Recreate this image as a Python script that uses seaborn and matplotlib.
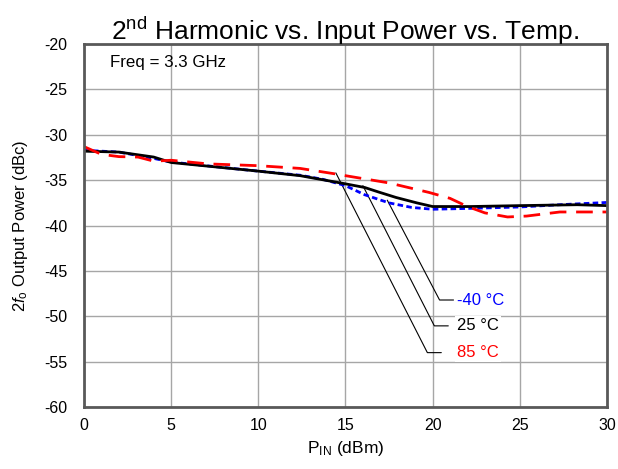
import matplotlib
matplotlib.use("Agg")
import matplotlib.pyplot as plt
import seaborn as sns
import pandas as pd

# input power (dBm) and 2nd harmonic level (dBc) per temperature
pin_m40 = [0, 2, 4, 5, 10, 12.4, 13.7, 15, 16.1, 17.5, 18.8, 20, 22.2, 25, 27.3, 30]
h2_m40 = [-31.7, -31.9, -32.6, -33.0, -34.0, -34.45, -34.9, -35.6, -36.6, -37.5, -38.0, -38.2, -38.1, -37.95, -37.7, -37.45]

pin_25 = [0, 2, 4, 5, 10, 12.4, 15, 16.1, 16.9, 17.9, 19.1, 20, 22.2, 25, 28.3, 30]
h2_25 = [-31.8, -31.9, -32.45, -33.05, -34.0, -34.5, -35.4, -35.8, -36.3, -36.9, -37.5, -37.9, -37.9, -37.8, -37.7, -37.8]

pin_85 = [0, 1, 2, 3.1, 4, 5, 7.1, 10, 12.4, 14.4, 15, 17.5, 19.8, 21.0, 22.0, 23.0, 24.3, 25.4, 27.3, 30]
h2_85 = [-31.3, -32.15, -32.4, -32.45, -32.9, -32.8, -33.2, -33.4, -33.7, -34.3, -34.5, -35.3, -36.35, -37.0, -37.9, -38.6, -39.05, -38.95, -38.5, -38.5]

# callout labels: text, colour, point on curve, elbow, text position
callouts = [
    ("-40 °C", "#0000ff", (17.4, -37.2), (20.4, -48.2), (21.4, -48.2)),
    ("25 °C", "black", (16.0, -35.6), (20.1, -51.05), (21.4, -51.05)),
    ("85 °C", "#ff0000", (14.45, -34.2), (19.7, -54.0), (21.4, -54.0)),
]

sns.set_style("white")
plt.rcParams["font.family"] = ["Liberation Sans", "DejaVu Sans"]
plt.rcParams["axes.unicode_minus"] = False
plt.rcParams["text.color"] = "black"
plt.rcParams["axes.labelcolor"] = "black"
plt.rcParams["mathtext.fontset"] = "custom"
plt.rcParams["mathtext.rm"] = "Liberation Sans"
plt.rcParams["mathtext.it"] = "Liberation Sans:italic"

fig, ax = plt.subplots(figsize=(6.18, 4.69), dpi=100)
fig.subplots_adjust(left=0.136, right=0.982, top=0.906, bottom=0.132)

df_m40 = pd.DataFrame({"pin": pin_m40, "h2": h2_m40})
df_25 = pd.DataFrame({"pin": pin_25, "h2": h2_25})
df_85 = pd.DataFrame({"pin": pin_85, "h2": h2_85})

sns.lineplot(data=df_m40, x="pin", y="h2", ax=ax, color="#0000ff", lw=2)
ax.lines[-1].set_dashes([2, 1.2])
sns.lineplot(data=df_25, x="pin", y="h2", ax=ax, color="black", lw=2)
sns.lineplot(data=df_85, x="pin", y="h2", ax=ax, color="#ff0000", lw=2)
ax.lines[-1].set_dashes([6, 3.5])

for text, col, pt, elbow, tpos in callouts:
    ax.plot([pt[0], elbow[0], elbow[0] + 0.8], [pt[1], elbow[1], elbow[1]],
            color="black", lw=0.8, zorder=1)
    ax.text(tpos[0], tpos[1], text, color=col, fontsize=12, va="center", ha="left",
            bbox=dict(facecolor="white", edgecolor="none", pad=1.5), zorder=4)

ax.set_xlim(0, 30)
ax.set_ylim(-60, -20)
ax.set_xticks(range(0, 31, 5))
ax.set_yticks(range(-60, -19, 5))
ax.grid(True, color="#a6a6a6", lw=1)
ax.set_axisbelow(True)
for s in ax.spines.values():
    s.set_color("#595959")
    s.set_linewidth(2)
ax.tick_params(length=0, labelsize=11.5, pad=8, colors="black")
ax.tick_params(axis="y", pad=12)

ax.text(1.5, -22.0, "Freq = 3.3 GHz", fontsize=12.2, va="center", ha="left", color="black")
ax.set_title(r"2$^{\mathrm{nd}}$ Harmonic vs. Input Power vs. Temp.", fontsize=19, pad=3, color="black")
ax.set_xlabel(r"P$_{\mathrm{IN}}$ (dBm)", fontsize=12.5, labelpad=4)
ax.set_ylabel(r"2$\mathit{f}_{\mathrm{o}}$ Output Power (dBc)", fontsize=12, labelpad=10)

fig.savefig("out.png", dpi=100)
